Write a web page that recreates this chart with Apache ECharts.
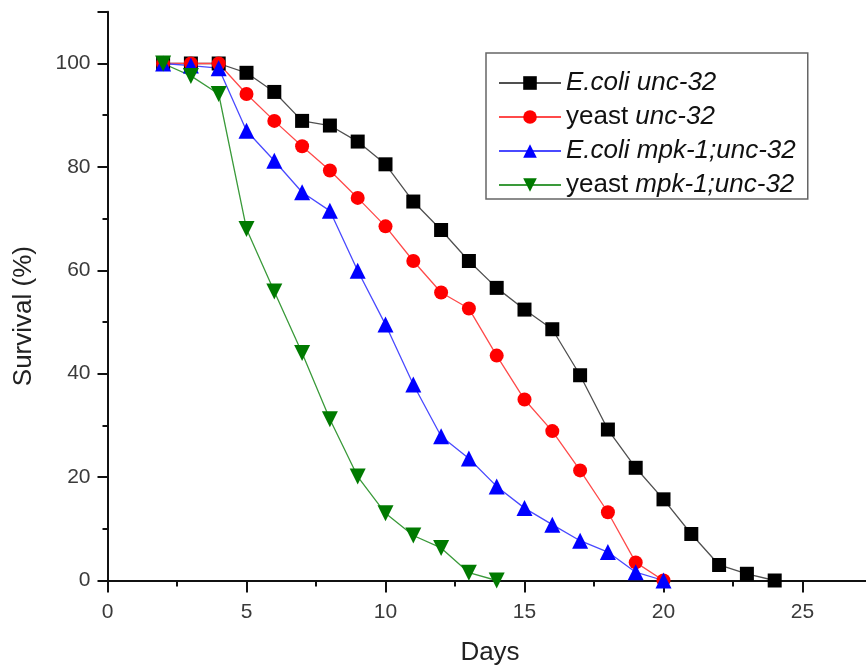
<!DOCTYPE html>
<html>
<head>
<meta charset="utf-8">
<script src="https://cdn.jsdelivr.net/npm/echarts@6/dist/echarts.min.js"></script>
<style>
  html, body { margin: 0; padding: 0; background: #fff; }
  #chart { width: 866px; height: 665px; }
</style>
</head>
<body>
<div id="chart"></div>
<script>
// Survival curves (% alive per day) for four strain / food combinations
const ecoliUncDays = [2,3,4,5,6,7,8,9,10,11,12,13,14,15,16,17,18,19,20,21,22,23,24];
const ecoliUnc = [100,100,100,98.2,94.5,88.9,88.0,84.9,80.5,73.3,67.8,61.8,56.6,52.4,48.6,39.7,29.2,21.8,15.7,9.0,3.0,1.3,0];

const yeastUncDays = [2,3,4,5,6,7,8,9,10,11,12,13,14,15,16,17,18,19,20];
const yeastUnc = [100,100,100,94.1,88.9,84.0,79.3,74.0,68.5,61.8,55.7,52.6,43.5,35.0,28.9,21.3,13.2,3.5,0];

const ecoliMpkDays = [2,3,4,5,6,7,8,9,10,11,12,13,14,15,16,17,18,19,20];
const ecoliMpk = [100,99.6,99.1,87.0,81.2,75.1,71.5,59.9,49.5,37.9,27.9,23.6,18.2,14.0,10.8,7.7,5.5,1.6,0];

const yeastMpkDays = [2,3,4,5,6,7,8,9,10,11,12,13,14];
const yeastMpk = [100,97.6,94.1,68.0,55.9,44.0,31.2,20.1,13.0,8.7,6.3,1.5,0];

const seriesNames = ['E.coli unc-32', 'yeast unc-32', 'E.coli mpk-1;unc-32', 'yeast mpk-1;unc-32'];

const xTicks = { min: 0, max: 30, interval: 5 };
const yTicks = { min: 0, max: 110, interval: 20 };

const FONT = "Arial, 'Liberation Sans', sans-serif";

function pairs(xs, ys) {
  return xs.map((x, i) => [x, ys[i]]);
}

function lineSeries(name, xs, ys, markColor, lineColor, symbol, size, rotate) {
  return {
    name: name,
    type: 'line',
    data: pairs(xs, ys),
    symbol: symbol,
    symbolSize: size,
    symbolRotate: rotate || 0,
    showAllSymbol: true,
    itemStyle: { color: markColor, borderWidth: 0 },
    lineStyle: { color: lineColor, width: 1.3 },
    emphasis: { disabled: true },
    animation: false
  };
}

const chart = echarts.init(document.getElementById('chart'), null, { renderer: 'canvas' });

chart.setOption({
  backgroundColor: '#ffffff',
  textStyle: { fontFamily: FONT },
  // the x axis runs on past the right edge of the page
  grid: { left: 107.5, top: 11.8, bottom: 84.5, right: -75.5, containLabel: false, outerBoundsMode: 'none' },
  legend: {
    orient: 'vertical',
    left: 486,
    top: 53,
    padding: [17, 12, 1, 12],
    itemGap: 8,
    itemWidth: 62,
    itemHeight: 17,
    borderColor: '#666',
    borderWidth: 1.5,
    data: seriesNames,
    formatter: function (name) {
      if (name.indexOf('yeast ') === 0) {
        return '{n|yeast }{i|' + name.slice(6) + '}';
      }
      return '{i|' + name + '}';
    },
    textStyle: {
      fontFamily: FONT,
      fontSize: 26,
      color: '#111',
      rich: {
        n: { fontFamily: FONT, fontSize: 26, color: '#111', lineHeight: 26 },
        i: { fontFamily: FONT, fontSize: 26, color: '#111', fontStyle: 'italic', lineHeight: 26 }
      }
    }
  },
  xAxis: {
    type: 'value',
    min: xTicks.min,
    max: xTicks.max,
    interval: xTicks.interval,
    name: 'Days',
    nameLocation: 'middle',
    nameGap: 59,
    nameTextStyle: { fontFamily: FONT, fontSize: 26, color: '#222', padding: [0, 69, 0, 0] },
    axisLine: { show: true, onZero: false, lineStyle: { color: '#111', width: 2 } },
    axisTick: { show: true, inside: false, length: 12, lineStyle: { color: '#111', width: 2 } },
    minorTick: { show: true, splitNumber: 2, length: 6, lineStyle: { color: '#111', width: 2 } },
    axisLabel: {
      margin: 21,
      fontFamily: FONT,
      fontSize: 21,
      color: '#3a3a3a',
      formatter: function (v) { return v % 5 === 0 ? String(v) : ''; }
    },
    splitLine: { show: false }
  },
  yAxis: {
    type: 'value',
    min: yTicks.min,
    max: yTicks.max,
    interval: yTicks.interval,
    name: 'Survival (%)',
    nameLocation: 'middle',
    nameGap: 71,
    nameRotate: 90,
    nameTextStyle: { fontFamily: FONT, fontSize: 26, color: '#222', padding: [0, 40, 0, 0] },
    axisLine: { show: true, onZero: false, lineStyle: { color: '#111', width: 2 } },
    axisTick: { show: true, inside: false, length: 10, lineStyle: { color: '#111', width: 2 } },
    minorTick: { show: true, splitNumber: 2, length: 5, lineStyle: { color: '#111', width: 2 } },
    axisLabel: {
      margin: 17,
      fontFamily: FONT,
      fontSize: 21,
      color: '#3a3a3a',
      formatter: function (v) { return v <= 100 ? String(v) : ''; }
    },
    splitLine: { show: false }
  },
  series: [
    lineSeries(seriesNames[0], ecoliUncDays, ecoliUnc, '#000000', '#505050', 'rect', 14),
    lineSeries(seriesNames[1], yeastUncDays, yeastUnc, '#ff0000', '#ff4a4a', 'circle', 14),
    lineSeries(seriesNames[2], ecoliMpkDays, ecoliMpk, '#0000ff', '#4a4aff', 'triangle', 16),
    lineSeries(seriesNames[3], yeastMpkDays, yeastMpk, '#007a00', '#3a9a3a', 'triangle', 16, 180)
  ]
});
</script>
</body>
</html>
